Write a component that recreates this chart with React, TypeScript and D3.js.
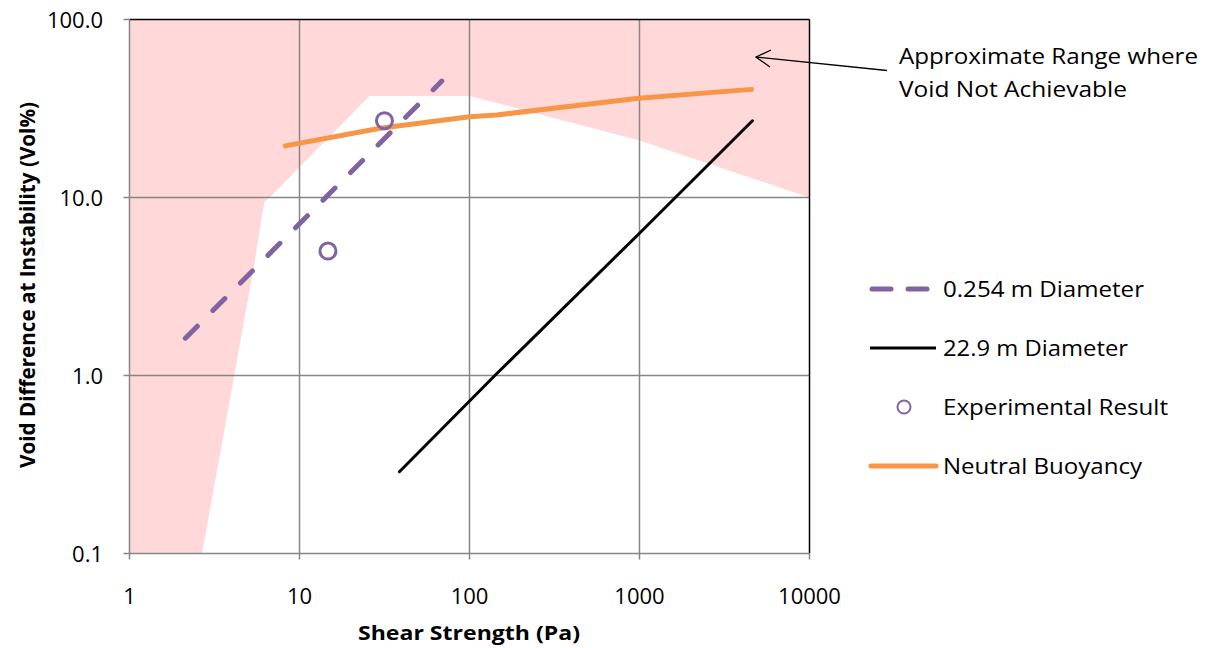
import React from "react";
import * as d3 from "d3";

const xTicks = [1, 10, 100, 1000, 10000];
const yTicks = [0.1, 1, 10, 100];
const yTickLabels = ["0.1", "1.0", "10.0", "100.0"];
const xTickLabels = ["1", "10", "100", "1000", "10000"];

// boundary of the white (achievable) region, clockwise from bottom
const boundaryX = [2.67, 5.35, 6.21, 6.89, 25.8, 100, 991, 10000];
const boundaryY = [0.1, 3.92, 9.44, 10.3, 37.2, 37.2, 21.0, 10.0];

const smallDiaX = [2.13, 68.7];
const smallDiaY = [1.62, 45.1];

const largeDiaX = [38.7, 141, 1000, 4617];
const largeDiaY = [0.288, 1.0, 6.3, 27.0];

const expX = [31.6, 14.7];
const expY = [27.0, 5.0];

const buoyX = [8.25, 29.8, 100, 144.7, 340, 992, 4560];
const buoyY = [19.5, 24.5, 28.4, 29.1, 32.0, 36.1, 40.5];

const legendLabels = ["0.254 m Diameter", "22.9 m Diameter", "Experimental Result", "Neutral Buoyancy"];
const legendWidths = [201, 185, 225, 199];

const W = 1213, H = 648;
const L = 129.5, R = 809.5, T = 19.5, B = 553.5;
const FONT = "'Open Sans', Lato, sans-serif";
const PURPLE = "#8064A2";
const ORANGE = "#F79646";

export default function App() {
  const x = d3.scaleLog().domain([1, 10000]).range([L, R]);
  const y = d3.scaleLog().domain([0.1, 100]).range([B, T]);
  const line = d3.line<[number, number]>().x(d => x(d[0])).y(d => y(d[1]));

  const pinkPts: [number, number][] = [[1, 0.1]];
  boundaryX.forEach((v, i) => pinkPts.push([v, boundaryY[i]]));
  pinkPts.push([10000, 100], [1, 100]);
  const pinkPath = line(pinkPts) + "Z";

  const zip = (a: number[], b: number[]) => a.map((v, i) => [v, b[i]] as [number, number]);

  const legY = [289, 348, 407, 466];

  return (
    <svg width={W} height={H} style={{ position: "absolute", left: 0, top: 0, background: "#fff" }} fontFamily={FONT}>
      <path d={pinkPath} fill="#FFD9D9" />
      {xTicks.slice(1, -1).map(t => (
        <line key={"gx" + t} x1={x(t)} x2={x(t)} y1={T} y2={B} stroke="#868686" strokeWidth={1.5} />
      ))}
      {yTicks.slice(1, -1).map(t => (
        <line key={"gy" + t} x1={L} x2={R} y1={y(t)} y2={y(t)} stroke="#868686" strokeWidth={1.5} />
      ))}
      <line x1={L} x2={R} y1={T} y2={T} stroke="#000" strokeWidth={1.5} />
      <line x1={R} x2={R} y1={T} y2={B} stroke="#000" strokeWidth={1.5} />
      <line x1={L} x2={R} y1={B} y2={B} stroke="#868686" strokeWidth={1.5} />
      <line x1={L} x2={L} y1={T} y2={B} stroke="#868686" strokeWidth={1.5} />
      {xTicks.map(t => (
        <line key={"tx" + t} x1={x(t)} x2={x(t)} y1={B} y2={B + 6} stroke="#868686" strokeWidth={1.5} />
      ))}
      {yTicks.map(t => (
        <line key={"ty" + t} x1={L - 6} x2={L} y1={y(t)} y2={y(t)} stroke="#868686" strokeWidth={1.5} />
      ))}
      {xTicks.map((t, i) => (
        <text key={"lx" + t} x={x(t)} y={604} textAnchor="middle" fontSize={22} fill="#000">{xTickLabels[i]}</text>
      ))}
      {yTicks.map((t, i) => (
        <text key={"ly" + t} x={103} y={y(t) + 8} textAnchor="end" fontSize={22} fill="#000">{yTickLabels[i]}</text>
      ))}
      <text x={469} y={640} textAnchor="middle" fontSize={20} fontWeight="bold" fill="#000" textLength={222} lengthAdjust="spacingAndGlyphs">Shear Strength (Pa)</text>
      <text transform={`translate(35,285) rotate(-90)`} textAnchor="middle" fontSize={21} fontWeight="bold" fill="#000" textLength={366} lengthAdjust="spacingAndGlyphs">Void Difference at Instability (Vol%)</text>

      <path d={line(zip(smallDiaX, smallDiaY)) || ""} fill="none" stroke={PURPLE} strokeWidth={5} strokeDasharray="17 22" strokeLinecap="round" />
      <path d={line(zip(largeDiaX, largeDiaY)) || ""} fill="none" stroke="#000" strokeWidth={3} strokeLinecap="round" />
      <path d={line(zip(buoyX, buoyY)) || ""} fill="none" stroke={ORANGE} strokeWidth={5} strokeLinecap="round" strokeLinejoin="round" />
      {expX.map((v, i) => (
        <circle key={"e" + i} cx={x(v)} cy={y(expY[i])} r={8} fill="none" stroke={PURPLE} strokeWidth={3} />
      ))}

      <line x1={887} y1={70.5} x2={756} y2={57} stroke="#000" strokeWidth={1.3} />
      <polyline points="771,50 756,57 770,67" fill="none" stroke="#000" strokeWidth={1.3} />
      <text x={899} y={64} fontSize={22} fill="#000" textLength={299} lengthAdjust="spacingAndGlyphs">Approximate Range where</text>
      <text x={899} y={97} fontSize={22} fill="#000" textLength={228} lengthAdjust="spacingAndGlyphs">Void Not Achievable</text>

      <line x1={872} x2={935} y1={legY[0]} y2={legY[0]} stroke={PURPLE} strokeWidth={5} strokeDasharray="19 17" strokeLinecap="round" />
      <line x1={870} x2={936} y1={legY[1]} y2={legY[1]} stroke="#000" strokeWidth={3} />
      <circle cx={904} cy={legY[2]} r={6.5} fill="none" stroke={PURPLE} strokeWidth={2} />
      <line x1={871} x2={936} y1={legY[3]} y2={legY[3]} stroke={ORANGE} strokeWidth={5} strokeLinecap="round" />
      {legendLabels.map((s, i) => (
        <text key={s} x={943} y={legY[i] + 8} fontSize={22} fill="#000" textLength={legendWidths[i]} lengthAdjust="spacingAndGlyphs">{s}</text>
      ))}
    </svg>
  );
}
